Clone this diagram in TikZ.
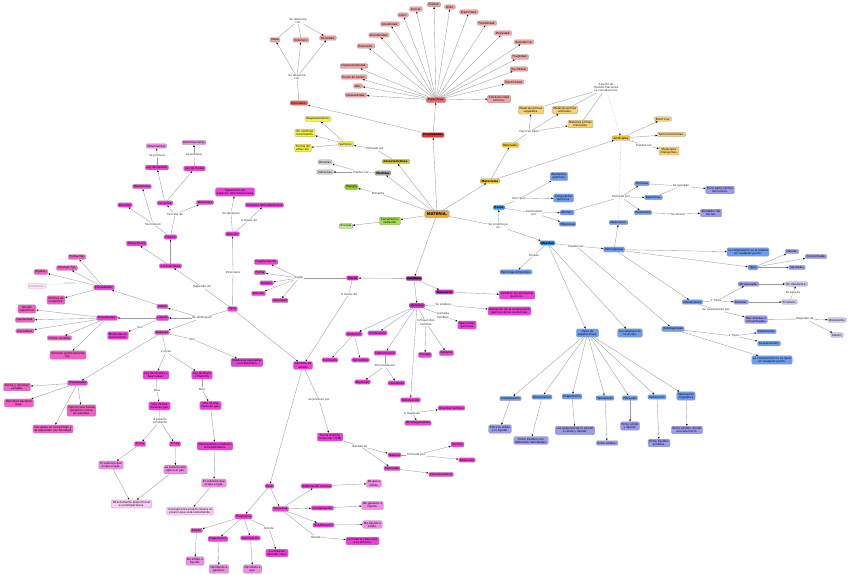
\documentclass[tikz,border=0pt]{standalone}
\usepackage{fontspec}
\usetikzlibrary{arrows.meta}
\newfontfamily\dvfont{DejaVu Sans}
\newcommand{\mapfnt}{\dvfont\fontsize{2.8}{3.2}\selectfont}
\newcommand{\bmapfnt}{\dvfont\bfseries\fontsize{2.8}{3.2}\selectfont}
\newcommand{\mainfnt}{\dvfont\bfseries\fontsize{3.8}{4.2}\selectfont}
\definecolor{cOrg}{HTML}{F5A623}
\definecolor{cRed}{HTML}{F22A2A}
\definecolor{cRedB}{HTML}{EE6262}
\definecolor{cSal}{HTML}{F4A2A2}
\definecolor{cYel}{HTML}{F7F244}
\definecolor{cOli}{HTML}{D6C530}
\definecolor{cGry}{HTML}{A6A6A6}
\definecolor{cLgy}{HTML}{D2D2D2}
\definecolor{cGrn}{HTML}{88CC1A}
\definecolor{cGrnB}{HTML}{A4E04A}
\definecolor{cLgn}{HTML}{BDF282}
\definecolor{cAmb}{HTML}{F7C625}
\definecolor{cLam}{HTML}{F8D274}
\definecolor{cBlu}{HTML}{1E90F0}
\definecolor{cBlm}{HTML}{6C9CF2}
\definecolor{cLav}{HTML}{9A9AF2}
\definecolor{cVlv}{HTML}{CACAF7}
\definecolor{cMag}{HTML}{F03CDA}
\definecolor{cMgD}{HTML}{A8239C}
\definecolor{cMgQ}{HTML}{D22ECA}
\definecolor{cPk}{HTML}{F48AE8}
\definecolor{cVpk}{HTML}{F9CCF5}
\definecolor{cRos}{HTML}{F25EC6}
\definecolor{cLine}{HTML}{9A9A9A}
\tikzset{
 nd/.style={draw=black!40, line width=0.3pt, rounded corners=1.2pt, inner xsep=1.3pt, inner ysep=1.1pt, font=\mapfnt, align=center, text=black},
 lb/.style={font=\mapfnt, inner sep=0.5pt, align=center, text=black!85},
 ln/.style={draw=cLine, line width=0.35pt},
 ar/.style={ln, -{Latex[length=2pt,width=1.7pt,color=black]}},
 dl/.style={ln, densely dotted},
 sOrg/.style={nd, fill=cOrg, font=\mainfnt, inner xsep=2pt, inner ysep=2pt},
 sRed/.style={nd, fill=cRed},
 sRedB/.style={nd, fill=cRedB},
 sSal/.style={nd, fill=cSal},
 sYel/.style={nd, fill=cYel},
 sOli/.style={nd, fill=cOli},
 sGry/.style={nd, fill=cGry},
 sLgy/.style={nd, fill=cLgy},
 sGrn/.style={nd, fill=cGrn},
 sGrnB/.style={nd, fill=cGrnB},
 sLgn/.style={nd, fill=cLgn},
 sAmb/.style={nd, fill=cAmb},
 sLam/.style={nd, fill=cLam},
 sBlu/.style={nd, fill=cBlu},
 sBlm/.style={nd, fill=cBlm},
 sLav/.style={nd, fill=cLav},
 sVlv/.style={nd, fill=cVlv},
 sMag/.style={nd, fill=cMag},
 sMgD/.style={nd, fill=cMgD},
 sMgQ/.style={nd, fill=cMgQ},
 sPk/.style={nd, fill=cPk},
 sVpk/.style={nd, fill=cVpk},
 sRos/.style={nd, fill=cRos},
 sFnt/.style={nd, draw=cPk, fill=cVpk!50, text=black!50},
}
\begin{document}
\begin{tikzpicture}[x=1pt,y=-1pt]
\fill[white] (0,0) rectangle (848,575);
\useasboundingbox (0,0) rectangle (848,575);

% ===== centre
\node[sOrg] (M) at (437,214) {MATERIA.};

% ===== Propiedades
\node[sRed,font=\bmapfnt] (prop) at (433,135) {Propiedades};
\node[sRedB] (esp) at (436,100) {Específicas.};
\node[sRedB] (gen) at (299,103) {Generales.};
\node[lb] (lg1) at (297,77) {Se relaciona\\con};
\node[lb] (lg2) at (298,21) {Se relaciona\\con};
\node[sSal] (masa) at (275,40) {Masa};
\node[sSal] (vol) at (301,40) {Volumen.};
\node[sSal] (dens) at (328,38) {Densidad.};
\node[sSal] (e1) at (356,95) {Maleabilidad.};
\node[sSal] (e2) at (358,86) {Olor.};
\node[sSal] (e3) at (354,77) {Punto de fusión.};
\node[sSal] (e4) at (354,66) {Impenetrabilidad.};
\node[sSal] (e5) at (366,46) {Extensión.};
\node[sSal] (e6) at (379,35) {Divisibilidad.};
\node[sSal] (e7) at (390,24) {Solubilidad.};
\node[sSal] (e8) at (403,15) {Color.};
\node[sSal] (e9) at (416,9) {Inercia.};
\node[sSal] (e10) at (434,4.5) {Dureza.};
\node[sSal] (e11) at (450,7) {Brillo.};
\node[sSal] (e12) at (469,12) {Elasticidad.};
\node[sSal] (e13) at (487,23) {Flexibilidad.};
\node[sSal] (e14) at (503,33) {Porosidad.};
\node[sSal] (e15) at (524,42) {Resistencia.};
\node[sSal] (e16) at (520,57) {Fragilidad.};
\node[sSal] (e17) at (519,69) {Ductilidad.};
\node[sSal] (e18) at (514,82) {Electricidad.};
\node[sSal] (e19) at (499,99) {Conductividad\\térmica.};
\draw[ar] (M) -- (prop);
\draw[ar] (prop) -- (esp);
\draw[ar] (prop) -- (gen);
\foreach \i in {1,...,19} {\draw[ar] (esp) -- (e\i);}
\draw[ln] (gen) -- (lg1);
\draw[ar] (lg1) -- (masa);
\draw[ar] (lg1) -- (vol);
\draw[ar] (lg1) -- (dens);
\draw[ln] (masa) -- (lg2);
\draw[ln] (vol) -- (lg2);
\draw[ar] (lg2) -- (dens);

% ===== Caracteristicas / Medidas / Energia
\node[sOli,font=\bmapfnt] (car) at (396,161.5) {Características.};
\node[lb] (lfp) at (375,149) {Formado por};
\node[sYel] (vect) at (346,144) {Vectores.};
\node[sYel] (v1) at (318,119) {Desplazamiento.};
\node[sYel] (v2) at (305,133) {En continuo\\movimiento.};
\node[sYel] (v3) at (303,148) {Fuerza de\\atracción.};
\node[sGry,font=\bmapfnt] (med) at (383,173) {Medidas};
\node[lb] (lps) at (361,172) {Pueden ser};
\node[sLgy] (dir) at (325,162) {Directas};
\node[sLgy] (ind) at (325,172) {Indirectas};
\node[sGrn] (en1) at (351.5,187) {Energía};
\node[lb] (lpre) at (378,193) {Presenta};
\node[sGrnB] (conv) at (390,221) {Conversión y\\radiación};
\node[sLgn] (en2) at (346,226) {Energía};
\draw[ar] (M) -- (car);
\draw[ln] (car) -- (lfp);
\draw[ar] (lfp) -- (vect);
\draw[ar] (vect) -- (v1);
\draw[ar] (vect) -- (v2);
\draw[ar] (vect) -- (v3);
\draw[ar] (M) -- (med);
\draw[ln] (med) -- (lps);
\draw[ar] (lps) -- (dir);
\draw[ar] (lps) -- (ind);
\draw[ln] (M) -- (lpre);
\draw[ar] (lpre) -- (en1);
\draw[ar] (M) -- (conv);
\draw[ar] (conv) -- (en2);

% ===== Materiales
\node[sAmb,font=\bmapfnt] (mat) at (490,181) {Materiales};
\node[sAmb] (nat) at (510.5,145) {Naturales.};
\node[lb] (lht) at (529,132) {Hay tres tipos};
\node[sLam] (mpv) at (531,110) {Materias primas\\vegetales.};
\node[sLam] (mpa) at (565,110) {Materias primas\\animales.};
\node[sLam] (mpm) at (580.5,124) {Materias primas\\minerales.};
\node[lb] (lap) at (606,88) {A partir de\\transformaciones\\se consiguen los};
\node[sAmb] (art) at (621,138) {Artificiales};
\node[sLam] (elc) at (663,119) {Eléctricos.};
\node[sLam] (semi) at (671.5,134.5) {Semiconductores.};
\node[lb] (lpu) at (644,145) {Pueden ser};
\node[sLam] (mint) at (669,151) {Materiales\\inteligentes.};
\draw[ar] (M) -- (mat);
\draw[ar] (mat) -- (nat);
\draw[ln] (nat) -- (lht);
\draw[ar] (lht) -- (mpv);
\draw[ar] (lht) -- (mpa);
\draw[ar] (lht) -- (mpm);
\draw[ln] (mpv) -- (lap);
\draw[ln] (mpa) -- (lap);
\draw[ln] (mpm) -- (lap);
\draw[ar,densely dotted] (lap) -- (art);
\draw[ar] (mat) -- (art);
\draw[ar] (art) -- (elc);
\draw[ar] (art) -- (semi);
\draw[ln] (art) -- (lpu);
\draw[ar] (lpu) -- (mint);

% ===== Puros / Mezclas
\node[lb] (lsc) at (498,226) {Se constituye\\en};
\node[sBlu,font=\bmapfnt] (puros) at (499,207.5) {Puros};
\node[sBlu,font=\bmapfnt] (mez) at (547.5,243) {Mezclas};
\node[lb] (ldt) at (519,199) {Dos tipos};
\node[sBlm] (eq) at (559,176.5) {Elementos\\químicos.};
\node[sBlm] (cq) at (563.5,198) {Compuestos\\químicos.};
\node[lb] (lcp) at (534,213) {Compuesto\\por};
\node[sBlm] (ato) at (567,212.5) {Átomos.};
\node[sBlm] (mol) at (567.5,224) {Moléculas};
\node[lb] (lfp2) at (621,197) {Formado por};
\node[sBlm] (prot) at (642,183.5) {Protones};
\node[sBlm] (neut) at (653.5,197.5) {Neutrones.};
\node[sBlm] (elec) at (643,212.5) {Electrones};
\node[lb] (lsa) at (681,186) {Se agrupan};
\node[sLav] (nuc1) at (720,190) {En la parte central\\del núcleo.};
\node[lb] (lsu) at (678,214) {Se ubican};
\node[sLav] (nuc2) at (711,213) {Alrededor del\\núcleo.};
\draw[ln] (M) -- (lsc);
\draw[ar] (lsc) -- (puros);
\draw[ar] (lsc) -- (mez);
\draw[ln] (puros) -- (ldt);
\draw[ar] (ldt) -- (eq);
\draw[ar] (ldt) -- (cq);
\draw[ln] (puros) -- (lcp);
\draw[ar] (lcp) -- (ato);
\draw[ar] (lcp) -- (mol);
\draw[ln] (ato) -- (lfp2);
\draw[ar] (lfp2) -- (prot);
\draw[ar] (lfp2) -- (neut);
\draw[ar] (lfp2) -- (elec);
\draw[ln] (prot) -- (lsa);
\draw[ln] (neut) -- (lsa);
\draw[ar] (lsa) -- (nuc1);
\draw[ln] (elec) -- (lsu);
\draw[ar] (lsu) -- (nuc2);

\node[lb] (lpo) at (534,255) {Poseen};
\node[sBlm] (pdif) at (516,272) {Partículas diferentes.};
\node[lb] (lpser) at (576,246) {Pueden ser};
\node[sBlm] (hom) at (614,249.5) {Homogéneas};
\node[sBlm] (alea) at (618.5,222.5) {Aleaciones.};
\node[sBlm] (het) at (673,329) {Heterogéneas};
\node[sBlm] (lcm) at (748,252) {La composición es la misma\\en cualquier punto.};
\node[sBlm] (tipos) at (753,267.5) {Tipos};
\node[sLav] (dil) at (792,251.5) {Diluida.};
\node[sLav] (conc) at (816,256.5) {Concentrada.};
\node[sLav] (sat) at (797,267.5) {Saturada.};
\node[sBlm] (disol) at (692.5,302) {Disoluciones};
\node[lb] (l2t) at (716,301) {2 Tipos};
\node[sLav] (nsat) at (748.5,284) {No saturada.};
\node[sLav] (dilu) at (741,302) {Diluidas.};
\node[lb] (lsc2) at (716,310) {Se caracterizan por};
\node[sLav] (mdc) at (756,319.5) {Más diluidas o\\concentradas.};
\node[sVlv] (equil) at (796.5,284) {En disolvente.};
\node[lb] (lesa) at (793,293) {Es aquella};
\node[sVlv] (soluto) at (789.5,302) {El soluto.};
\node[lb] (ldd) at (805,319) {Depende de};
\node[sVlv] (disv) at (837,320) {Disolvente.};
\node[sVlv] (solu) at (837,335) {Soluto.};
\node[lb] (l2t2) at (734,336) {2 Tipos};
\node[sBlm] (emul) at (766.5,331.5) {Emulsiones.};
\node[sBlm] (susp) at (769,343.5) {Suspensiones.};
\node[sBlm] (lcn) at (772,360) {La composición no es igual\\en cualquier punto.};
\draw[ln] (mez) -- (lpo);
\draw[ar] (lpo) -- (pdif);
\draw[ln] (mez) -- (lpser);
\draw[ar] (lpser) -- (hom);
\draw[ar] (lpser) -- (het);
\draw[ar] (hom) -- (alea);
\draw[dl] (art) -- (alea);
\draw[ar] (hom) -- (lcm);
\draw[ar] (hom) -- (tipos);
\draw[ar] (tipos) -- (dil);
\draw[ar] (tipos) -- (conc);
\draw[ar] (tipos) -- (sat);
\draw[ar] (hom) -- (disol);
\draw[ln] (disol) -- (l2t);
\draw[ar] (l2t) -- (nsat);
\draw[ar] (l2t) -- (dilu);
\draw[ln] (disol) -- (lsc2);
\draw[ar] (lsc2) -- (mdc);
\draw[ar] (nsat) -- (equil);
\draw[ar] (dilu) -- (soluto);
\draw[ln] (soluto) -- (lesa);
\draw[ar] (lesa) -- (equil);
\draw[ln] (mdc) -- (ldd);
\draw[ar] (ldd) -- (disv);
\draw[ar] (ldd) -- (solu);
\draw[ln] (het) -- (l2t2);
\draw[ar] (l2t2) -- (emul);
\draw[ar] (l2t2) -- (susp);
\draw[ar] (het) -- (lcn);

% separaciones
\node[sBlm] (tds) at (587.5,333) {Tipos de\\separaciones.};
\node[sBlm] (scf) at (630,333) {Su composición\\no es fija.};
\node[sBlm] (cris) at (510.5,398.5) {Cristalización};
\node[sBlm] (deca) at (542,397) {Decantación};
\node[sBlm] (evap) at (572,396.5) {Evaporación};
\node[sBlm] (tami) at (605,398) {Tamización};
\node[sBlm] (filt) at (630,398) {Filtración};
\node[sBlm] (dest) at (657,397) {Destilación};
\node[sBlm] (smag) at (686,396) {Separación\\magnética};
\node[sLav] (c1) at (500,429) {Entre lo sólido\\y lo líquido.};
\node[sLav] (c2) at (531,440.5) {Entre líquidos con\\diferentes densidades.};
\node[sLav] (c3) at (575,430.5) {Los gaseosos de lo líquido\\o sólido y líquido.};
\node[sLav] (c4) at (607,443) {Entre sólidos.};
\node[sLav] (c5) at (630,426) {Entre sólido\\y líquido.};
\node[sLav] (c6) at (659,443) {Entre líquidos\\solubles.};
\node[sLav] (c7) at (687,430) {Entre sólidos, donde\\uno sea hierro.};
\draw[ar] (mez) -- (tds);
\draw[ar] (mez) -- (scf);
\foreach \s/\c in {cris/c1,deca/c2,evap/c3,tami/c4,filt/c5,dest/c6,smag/c7} {
  \draw[ar] (tds) -- (\s);
  \draw[ar] (\s) -- (\c);
}

% ===== Cambios
\node[sMgD,font=\bmapfnt] (cam) at (414,278.5) {Cambios};
\node[sMgQ] (fis) at (352.5,278) {Físicos};
\node[lb] (lseg) at (299,278) {Según};
\node[sMag] (frag) at (266,262) {Fragmentación};
\node[sMag] (forma) at (260,272.5) {Forma};
\node[sMag] (tam) at (266.5,283) {Tamaño};
\node[sMag] (pos) at (258.5,293.5) {Posición};
\node[sMag] (dimn) at (280,300.5) {Velocidad};
\node[lb] (lat) at (349,294) {A través de};
\node[sMgQ,font=\bmapfnt] (nuc) at (444.5,292) {Nucleares};
\node[sMag] (cel) at (517,295) {Cambian los elementos\\químicos.};
\node[sMgQ] (quim) at (417,305.5) {Químicos};
\node[lb] (lspr) at (443.5,305) {Se produce};
\node[sMag] (alt) at (509.5,311) {Alteración de la composición\\química de las sustancias.};
\node[lb] (llt) at (443,315.5) {Llamada\\también};
\node[sMag] (rq) at (467,325) {Reacciones\\químicas};
\node[lb] (lif) at (426,322.5) {Influyen dos\\factores};
\node[sMag] (ener) at (425,355) {Energía};
\node[sMag] (oxi) at (446.5,353) {Oxígeno};
\node[sMag] (oxid) at (354,334) {Oxidación};
\node[sMag] (comb) at (377.5,333) {Combustión};
\node[sMag] (corr) at (330,360) {Corrosión};
\node[sMag] (oxl) at (360.5,360) {Herrumbre};
\node[sMag] (ferm) at (385,353) {Fermentación};
\node[lb] (lpp) at (385,366) {Provocada por};
\node[sMag] (bact) at (362.5,382) {Bacterias};
\node[sMag] (lev) at (396.5,383) {Levaduras};
\node[sMag] (putr) at (410.5,400) {Putrefacción};
\node[lb] (lat2) at (412,413) {A través de};
\node[sMag] (micro) at (418,423) {Microorganismos};
\node[sMag] (divf) at (451.5,408) {Diversos factores};
\draw[ar] (M) -- (cam);
\draw[ar] (cam) -- (fis);
\draw[ln] (fis) -- (lseg);
\draw[ar] (lseg) -- (frag);
\draw[ar] (lseg) -- (forma);
\draw[ar] (lseg) -- (tam);
\draw[ar] (lseg) -- (pos);
\draw[ar] (lseg) -- (dimn);
\draw[ar] (cam) -- (nuc);
\draw[ar] (nuc) -- (cel);
\draw[ar] (cam) -- (quim);
\draw[ln] (quim) -- (lspr);
\draw[ar] (lspr) -- (alt);
\draw[ln] (quim) -- (llt);
\draw[ar] (llt) -- (rq);
\draw[ln] (quim) -- (lif);
\draw[ar] (lif) -- (ener);
\draw[ar] (lif) -- (oxi);
\draw[ar] (quim) -- (oxid);
\draw[ar] (quim) -- (comb);
\draw[ar] (quim) -- (ferm);
\draw[ar] (quim) -- (putr);
\draw[ar] (oxid) -- (corr);
\draw[ar] (oxid) -- (oxl);
\draw[ln] (ferm) -- (lpp);
\draw[ar] (lpp) -- (bact);
\draw[ar] (lpp) -- (lev);
\draw[ln] (putr) -- (lat2);
\draw[ar] (lat2) -- (micro);
\draw[ar] (lat2) -- (divf);

% ===== Cambios de estado / TCM
\node[sMag] (cest) at (303,365.5) {Cambios de\\estado};
\node[lb] (lspp) at (319,400) {Se produce por};
\node[sMag] (tcm) at (330,437) {Teoría cinético\\molecular (TCM)};
\node[lb] (lba) at (360,446) {Basada en};
\node[sMag] (matn) at (394.5,455) {Materia};
\node[sMag] (part) at (392,468.5) {Partículas};
\node[lb] (lfo) at (416,455) {Formada por};
\node[sMag] (ato2) at (457.5,444.5) {Átomos};
\node[sMag] (mol2) at (467,460) {Moléculas};
\node[sMag] (choc) at (441,474.5) {Chocan entre sí};
\draw[ln] (fis) -- (lat);
\draw[ar] (lat) -- (cest);
\draw[ln] (cest) -- (lspp);
\draw[ar] (lspp) -- (tcm);
\draw[ln] (tcm) -- (lba);
\draw[ar] (lba) -- (matn);
\draw[ar] (lba) -- (part);
\draw[ln] (matn) -- (lfo);
\draw[ar] (lfo) -- (ato2);
\draw[ar] (lfo) -- (mol2);
\draw[ar] (part) -- (choc);

\node[sMag] (fase) at (269.5,486) {Fase};
\node[sMag] (prog) at (243.5,516.5) {Progresiva};
\node[sMag] (regr) at (280.5,509) {Regresiva};
\node[sMag] (fus) at (196.5,530.5) {Fusión};
\node[sMag] (evap2) at (218,539) {Evaporación};
\node[sMag] (subl) at (250.5,538) {Sublimación};
\node[lb] (ldon1) at (269,528) {Donde};
\node[sMag] (lmac) at (277,553) {La materia\\absorbe calor.};
\node[sPk] (fus1) at (195,561) {De sólido a\\líquido.};
\node[sPk] (ev1) at (219,569) {De líquido a\\gaseoso.};
\node[sPk] (su1) at (252.5,569) {De sólido a\\gas.};
\node[sMag] (sinv) at (316.5,486) {Sublimación inversa};
\node[sMag] (cond) at (322.5,508) {Condensación};
\node[sMag] (soli) at (323.5,525) {Solidificación};
\node[lb] (ldon2) at (316,537) {Donde};
\node[sMag] (lmce) at (362.5,541) {La materia cede calor\\a su entorno.};
\node[sPk] (si1) at (374,483.5) {De gas a\\sólido.};
\node[sPk] (co1) at (372.5,505.5) {De gaseoso a\\líquido.};
\node[sPk] (so1) at (372.5,524.5) {De líquido a\\sólido.};
\draw[ar] (cest) -- (fase);
\draw[ar] (fase) -- (prog);
\draw[ar] (fase) -- (regr);
\draw[ar] (prog) -- (fus);
\draw[ar] (prog) -- (evap2);
\draw[ar] (prog) -- (subl);
\draw[ln] (prog) -- (ldon1);
\draw[ar] (ldon1) -- (lmac);
\draw[ar] (fus) -- (fus1);
\draw[ar] (evap2) -- (ev1);
\draw[ar] (subl) -- (su1);
\draw[ar] (regr) -- (sinv);
\draw[ar] (regr) -- (cond);
\draw[ar] (regr) -- (soli);
\draw[ln] (regr) -- (ldon2);
\draw[ar] (ldon2) -- (lmce);
\draw[ar] (sinv) -- (si1);
\draw[ar] (cond) -- (co1);
\draw[ar] (soli) -- (so1);

% ===== Tipos / estados (left)
\node[sMag] (est) at (232.5,309) {Tipos};
\node[lb] (lint) at (233,272) {Interviene};
\node[sMag] (dif) at (232.5,234) {Difusión};
\node[lb] (lsd) at (231,213) {Se destacan};
\node[sMag] (sep) at (235,192) {Separación de\\espacios intermoleculares};
\node[lb] (lat3) at (249,220) {A través de};
\node[sMag] (ptd) at (264.5,205) {Procesos termodinámicos};
\draw[ar] (est) -- (cest);
\draw[ln] (est) -- (lint);
\draw[ar] (lint) -- (dif);
\draw[ln] (dif) -- (lsd);
\draw[ar] (lsd) -- (sep);
\draw[ln] (dif) -- (lat3);
\draw[ar] (lat3) -- (ptd);

\node[lb] (lsdi) at (202,318) {Se distinguen};
\node[sMag] (sol) at (162.5,306.5) {Sólido};
\node[sMag] (liq) at (162.5,318) {Líquido};
\node[sMag] (gas) at (162,332.5) {Gaseoso};
\node[lb] (ldep) at (202,287) {Depende de};
\node[sMag] (cnd) at (170.5,266) {2 Condiciones};
\node[sMag] (pres) at (170.5,237) {Presión};
\node[sMag] (temp) at (136.5,243.5) {Temperatura};
\node[lb] (lsme) at (153,224) {Se mide en};
\node[lb] (lstd) at (175,214) {Se trata de};
\node[sMag] (pasc) at (125,205) {Pascales};
\node[sMag] (lfz) at (165,203) {La fuerza};
\node[sMag] (atm) at (205,202.5) {Atmósfera};
\node[sMag] (newt) at (157,167.5) {Ley de Newton};
\node[sMag] (hook) at (194.5,168.5) {Ley de Hooke};
\node[lb] (lsp1) at (157,156) {Se produce};
\node[lb] (lsp2) at (194,155) {Se produce};
\node[sPk] (movi) at (156.5,146) {Movimientos};
\node[sPk] (defo) at (194,142.5) {Deformaciones};
\node[sMag] (manom) at (142,186.5) {Manómetro};
\draw[ln] (est) -- (lsdi);
\draw[ar] (lsdi) -- (sol);
\draw[ar] (lsdi) -- (liq);
\draw[ar] (lsdi) -- (gas);
\draw[ln] (est) -- (ldep);
\draw[ar] (ldep) -- (cnd);
\draw[ar] (cnd) -- (pres);
\draw[ar] (cnd) -- (temp);
\draw[ln] (pres) -- (lsme);
\draw[ar] (lsme) -- (pasc);
\draw[ar] (lsme) -- (manom);
\draw[ln] (pres) -- (lstd);
\draw[ar] (lstd) -- (lfz);
\draw[ar] (lstd) -- (atm);
\draw[ar] (lfz) -- (newt);
\draw[ar] (lfz) -- (hook);
\draw[ln] (newt) -- (lsp1);
\draw[ar] (lsp1) -- (movi);
\draw[ln] (hook) -- (lsp2);
\draw[ar] (lsp2) -- (defo);

\node[sMag] (prop1) at (104,287.5) {Propiedades.};
\node[sRos] (ffij) at (77,257) {Forma fija.};
\node[sRos] (vfij) at (67,268) {Volumen fijo.};
\node[sRos] (rig) at (41,272) {Rígidos.};
\node[sFnt] (crist) at (37,286) {Cristalinos.};
\node[lb,text=black!35] (lamo) at (70,283) {Amorfos};
\node[sRos] (dcomp) at (56,300) {Difíciles de\\comprimir.};
\node[sMag] (prop2) at (107,318) {Propiedades.};
\node[sRos] (tsup) at (27,309) {Tensión\\superficial.};
\node[sRos] (capi) at (25,320) {Capilaridad.};
\node[sRos] (visc) at (25,331) {Viscosidad.};
\node[sRos] (fvar) at (59.5,338) {Forma variable.};
\node[sRos] (vpf) at (68,355) {Volumen prácticamente\\fijo.};
\node[lb] (lson1) at (140,327) {Son};
\node[sMag] (mmov) at (118,335.5) {Moléculas en\\movimiento.};
\draw[ar] (sol) -- (prop1);
\draw[ar] (prop1) -- (ffij);
\draw[ar] (prop1) -- (vfij);
\draw[ar] (prop1) -- (rig);
\draw[dl,draw=cPk] (lamo) -- (crist);
\draw[ar] (prop1) -- (dcomp);
\draw[ar] (liq) -- (prop2);
\draw[ar] (prop2) -- (tsup);
\draw[ar] (prop2) -- (capi);
\draw[ar] (prop2) -- (visc);
\draw[ar] (prop2) -- (fvar);
\draw[ar] (prop2) -- (vpf);
\draw[ln] (liq) -- (lson1);
\draw[ar] (lson1) -- (mmov);

\node[lb] (lson2) at (192,339) {Son};
\node[sMag] (msd) at (247,362.5) {Moléculas separadas\\y en desorden.};
\node[lb] (l2l) at (166,352) {2 leyes};
\node[sMag] (lcgl) at (156,375) {Ley de Charles y\\Gay-Lussac};
\node[sMag] (lbm) at (202,375) {Ley de Boyle\\y Mariotte};
\node[sMag] (prop3) at (77.5,383) {Propiedades};
\node[sRos] (fvv) at (17,387) {Forma y volumen\\variable.};
\node[sRos] (dbb) at (19,403) {Densidad bastante\\baja.};
\node[sRos] (ejf) at (81.5,410.5) {Ejercen una fuerza\\(presión) contra\\las paredes.};
\node[sRos] (lgc) at (53,429) {Los gases se comprimen y\\se expanden con facilidad.};
\draw[ln] (gas) -- (lson2);
\draw[ar] (lson2) -- (msd);
\draw[ln] (gas) -- (l2l);
\draw[ar] (l2l) -- (lcgl);
\draw[ar] (l2l) -- (lbm);
\draw[ar] (gas) -- (prop3);
\draw[ar] (prop3) -- (fvv);
\draw[ar] (prop3) -- (dbb);
\draw[ar] (prop3) -- (ejf);
\draw[ar] (prop3) -- (lgc);

\node[lb] (lpa1) at (157,390) {Para};
\node[sMag] (umm1) at (159.5,406) {Una misma\\masa de gas.};
\node[lb] (lapc) at (160,421) {A presión\\constante};
\node[sMag] (ley1) at (140,444) {1ª Ley};
\node[sMag] (ley2) at (175,444) {2ª Ley};
\node[sPk] (vog) at (111,465) {El volumen que\\ocupa el gas.};
\node[sPk] (pqe) at (175.5,469.5) {La presión que\\ejerce el gas.};
\node[sVpk] (dpt) at (131.5,504) {Directamente proporcional\\a su temperatura.};
\node[lb] (lpa2) at (202,389) {Para};
\node[sMag] (umm2) at (210.5,405.5) {Una misma\\masa de gas.};
\node[sMag] (mct) at (215,446) {Manteniendo constante\\la temperatura.};
\node[sPk] (evo) at (214,483) {El volumen que\\ocupa el gas.};
\node[sVpk] (ipp) at (190,511) {Inversamente proporcional a la\\presión que está sometiendo.};
\draw[ln] (lcgl) -- (lpa1);
\draw[ar] (lpa1) -- (umm1);
\draw[ln] (umm1) -- (lapc);
\draw[ar] (lapc) -- (ley1);
\draw[ar] (lapc) -- (ley2);
\draw[ar] (ley1) -- (vog);
\draw[ar] (ley2) -- (pqe);
\draw[ar] (vog) -- (dpt);
\draw[ar] (pqe) -- (dpt);
\draw[ln] (lbm) -- (lpa2);
\draw[ar] (lpa2) -- (umm2);
\draw[ar] (umm2) -- (mct);
\draw[ar] (mct) -- (evo);
\draw[ar] (evo) -- (ipp);
\end{tikzpicture}
\end{document}
